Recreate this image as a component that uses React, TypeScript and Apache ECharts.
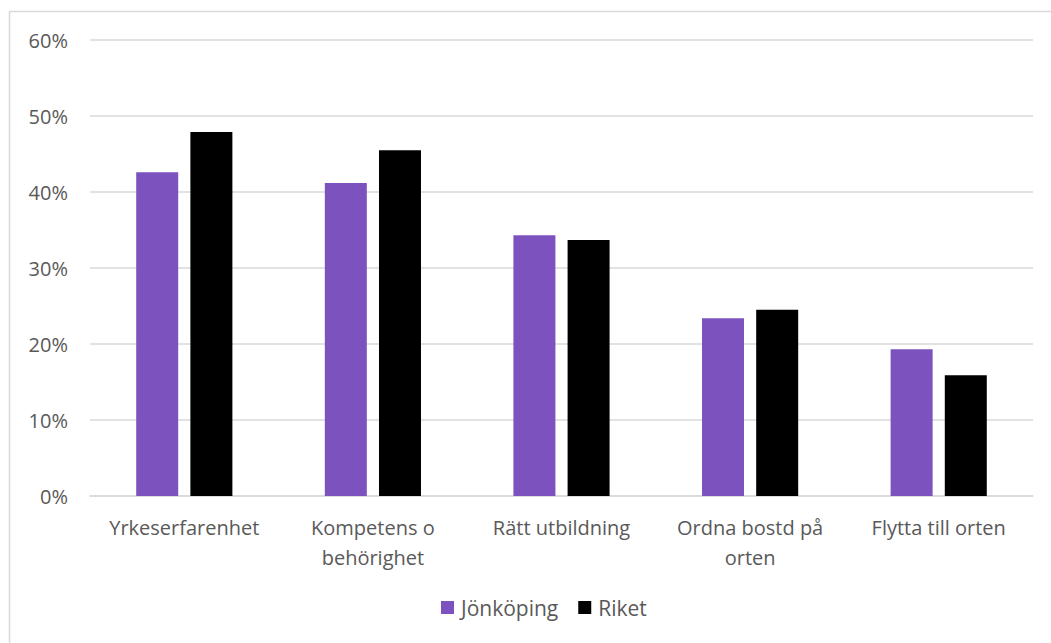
import React, { useEffect, useRef } from "react";
import * as echarts from "echarts";

const categories = [
  "Yrkeserfarenhet",
  "Kompetens o\nbehörighet",
  "Rätt utbildning",
  "Ordna bostd på\norten",
  "Flytta till orten",
];
const jonkoping = [42.6, 41.2, 34.3, 23.4, 19.3];
const riket = [47.9, 45.5, 33.7, 24.5, 15.9];
const seriesNames = ["Jönköping", "Riket"];

const FONT = "'Open Sans', 'Noto Sans', sans-serif";
const TEXT = "#595959";
const GRID = "#d9d9d9";

export default function App() {
  const ref = useRef<HTMLDivElement>(null);

  useEffect(() => {
    if (!ref.current) return;
    const chart = echarts.init(ref.current, null, { renderer: "svg" });
    chart.setOption({
      animation: false,
      backgroundColor: "#ffffff",
      graphic: [
        {
          type: "rect",
          shape: { x: 9.5, y: 11.5, width: 1060, height: 660 },
          style: { fill: "none", stroke: GRID, lineWidth: 1.5 },
          silent: true,
        },
      ],
      grid: { left: 90, right: 18, top: 40, bottom: 147 },
      legend: {
        bottom: 20,
        left: 436,
        itemWidth: 13,
        itemHeight: 13,
        itemGap: 20,
        icon: "rect",
        textStyle: { color: TEXT, fontSize: 21, fontFamily: FONT, padding: [0, 0, 0, 2] },
        data: seriesNames,
      },
      xAxis: {
        type: "category",
        data: categories,
        axisLine: { lineStyle: { color: GRID, width: 1.5 } },
        axisTick: { show: false },
        axisLabel: {
          color: TEXT,
          fontSize: 20,
          fontFamily: FONT,
          margin: 16,
          lineHeight: 30,
          interval: 0,
        },
      },
      yAxis: {
        type: "value",
        min: 0,
        max: 60,
        interval: 10,
        axisLine: { show: false },
        axisTick: { show: false },
        splitLine: { lineStyle: { color: GRID, width: 1.5 } },
        axisLabel: {
          color: TEXT,
          fontSize: 20,
          fontFamily: FONT,
          margin: 22,
          formatter: (v: number) => `${v}%`,
        },
      },
      series: [
        {
          name: seriesNames[0],
          type: "bar",
          data: jonkoping,
          barWidth: 42,
          barGap: "29%",
          itemStyle: { color: "#7b52be" },
        },
        {
          name: seriesNames[1],
          type: "bar",
          data: riket,
          barWidth: 42,
          itemStyle: { color: "#000000" },
        },
      ],
    });
    return () => chart.dispose();
  }, []);

  return (
    <div
      ref={ref}
      style={{ position: "absolute", left: 0, top: 0, width: 1051, height: 643 }}
    />
  );
}
